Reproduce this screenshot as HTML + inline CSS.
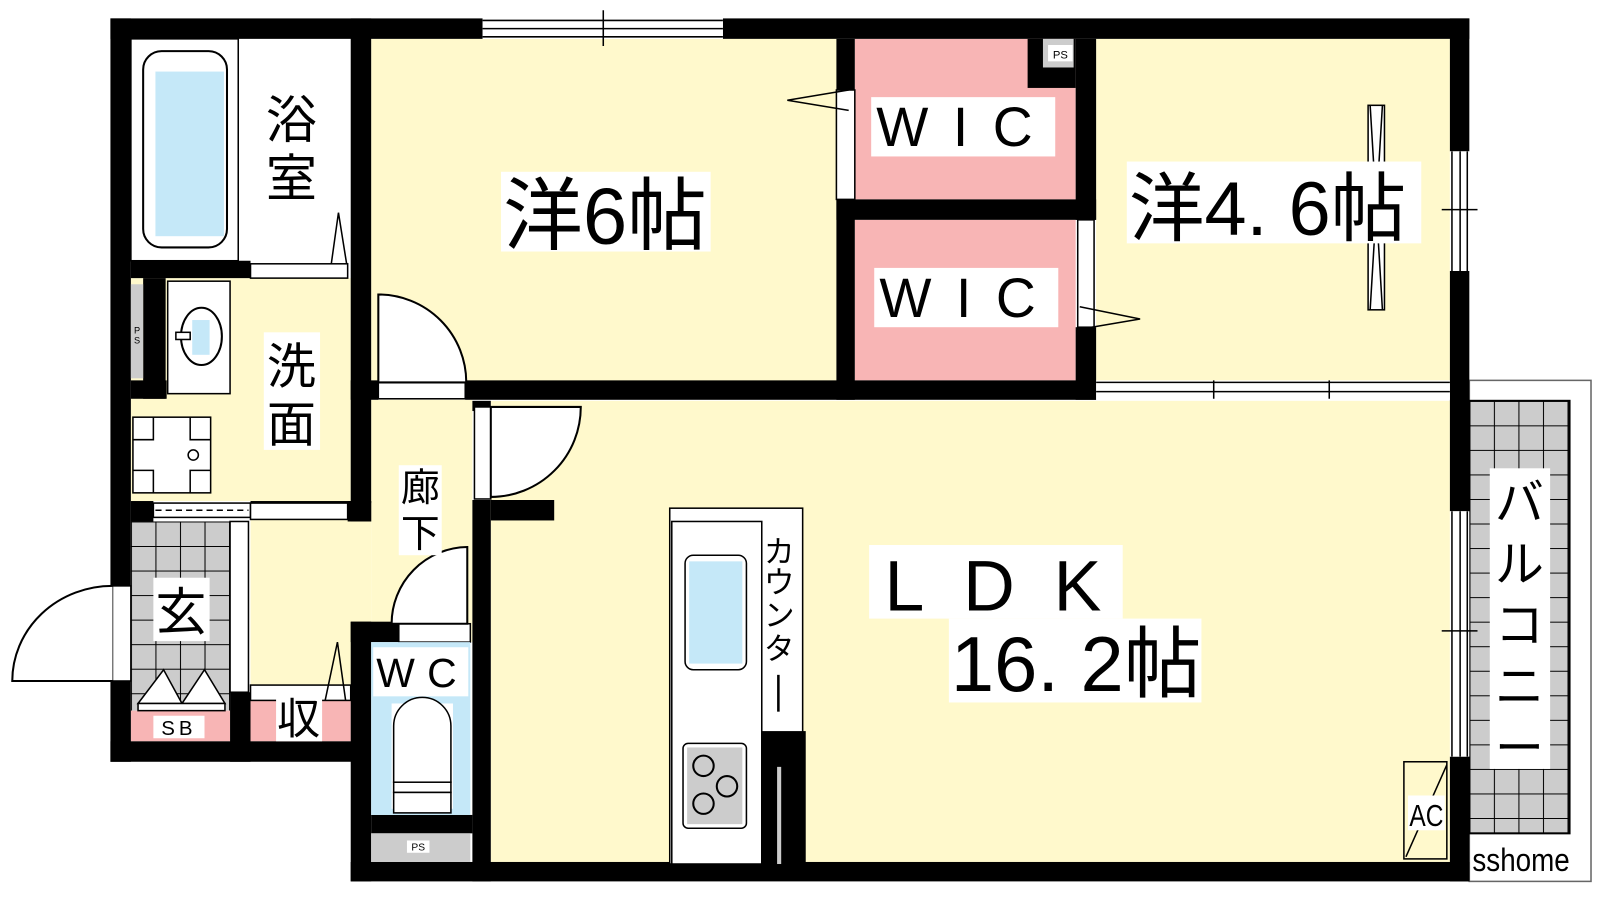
<!DOCTYPE html>
<html><head><meta charset="utf-8"><style>
html,body{margin:0;padding:0;background:#fff;width:1600px;height:900px;overflow:hidden}
svg{display:block}
text{font-family:"Liberation Sans","Noto Sans CJK JP",sans-serif;fill:#000}
</style></head><body>
<svg width="1600" height="900" viewBox="0 0 1600 900" xmlns="http://www.w3.org/2000/svg">
<defs>
<pattern id="tile" width="24" height="24" patternUnits="userSpaceOnUse" x="1437" y="392">
<rect width="24" height="24" fill="#cccccc"/><path d="M0 0H24M0 0V24" stroke="#000" stroke-width="2"/></pattern>
<pattern id="tile2" width="24" height="24" patternUnits="userSpaceOnUse" x="128" y="510">
<rect width="24" height="24" fill="#cccccc"/><path d="M0 0H24M0 0V24" stroke="#000" stroke-width="2"/></pattern>
</defs>
<g transform="scale(1.0225)">
<rect x="363" y="38" width="455" height="336" fill="#fff9cc"/>
<rect x="1072" y="38" width="346" height="336" fill="#fff9cc"/>
<rect x="836" y="38" width="216" height="157" fill="#f8b5b5"/>
<rect x="836" y="215" width="216" height="157" fill="#f8b5b5"/>
<rect x="480" y="392" width="938" height="453" fill="#fff9cc"/>
<rect x="363" y="391" width="99" height="237" fill="#fff9cc"/>
<rect x="245" y="508" width="118" height="162" fill="#fff9cc"/>
<rect x="128" y="272" width="215" height="218" fill="#fff9cc"/>
<rect x="128" y="38" width="215" height="217" fill="#fff"/>
<rect x="1437" y="372" width="119" height="490" fill="#fff" stroke="#666" stroke-width="1.5"/>
<rect x="1437" y="392" width="98" height="423" fill="url(#tile)" stroke="#000" stroke-width="2"/>
<rect x="1457" y="458" width="59" height="294" fill="#fff"/>
<text x="1486" y="508" font-size="48" text-anchor="middle">バ</text>
<text x="1486" y="568" font-size="48" text-anchor="middle">ル</text>
<text x="1486" y="628" font-size="48" text-anchor="middle">コ</text>
<text x="1486" y="688" font-size="48" text-anchor="middle">ニ</text>
<text x="1486" y="748" font-size="48" text-anchor="middle">ー</text>
<rect x="1440" y="818" width="110" height="40" fill="#fff"/>
<text x="1440" y="852" font-size="32" transform="translate(1440 0) scale(0.85 1) translate(-1440 0)">sshome</text>
<rect x="128" y="510" width="97" height="185" fill="url(#tile2)"/>
<rect x="128" y="695" width="97" height="30" fill="#f8b5b5"/>
<rect x="245" y="685" width="98" height="40" fill="#f8b5b5"/>
<rect x="245" y="670" width="98" height="15" fill="#fff" stroke="#000" stroke-width="1.5"/>
<rect x="225" y="510" width="18" height="167" fill="#fff" stroke="#000" stroke-width="1.5"/>
<path d="M135 688 L160 655 L178 688 L200 655 L220 688 Z" fill="#fff" stroke="#000" stroke-width="1.5"/>
<rect x="135" y="688" width="85" height="7" fill="#fff" stroke="#000" stroke-width="1.5"/>
<g fill="#000">
<rect x="108" y="18" width="364" height="20"/>
<rect x="707" y="18" width="730" height="20"/>
<rect x="108" y="18" width="20" height="727"/>
<rect x="108" y="725" width="237" height="20"/>
<rect x="343" y="18" width="20" height="492"/>
<rect x="128" y="255" width="117" height="17"/>
<rect x="140" y="272" width="22" height="118"/>
<rect x="128" y="372" width="35" height="18"/>
<rect x="128" y="490" width="22" height="20"/>
<rect x="245" y="490" width="118" height="2"/>
<rect x="340" y="490" width="23" height="20"/>
<rect x="225" y="677" width="20" height="68"/>
<rect x="343" y="608" width="47" height="20"/>
<rect x="343" y="608" width="20" height="254"/>
<rect x="462" y="392" width="18" height="10"/>
<rect x="462" y="489" width="18" height="373"/>
<rect x="480" y="489" width="62" height="20"/>
<rect x="455" y="372" width="617" height="19"/>
<rect x="343" y="372" width="27" height="19"/>
<rect x="818" y="38" width="18" height="50"/>
<rect x="818" y="195" width="18" height="196"/>
<rect x="818" y="195" width="254" height="20"/>
<rect x="1052" y="38" width="20" height="177"/>
<rect x="1052" y="320" width="20" height="71"/>
<rect x="1005" y="38" width="47" height="48"/>
<rect x="1418" y="18" width="19" height="130"/>
<rect x="1418" y="265" width="19" height="235"/>
<rect x="1418" y="740" width="19" height="122"/>
<rect x="343" y="843" width="1094" height="19"/>
<rect x="363" y="797" width="99" height="18"/>
</g>
<rect x="472" y="18" width="235" height="20" fill="#fff"/>
<path d="M472 20H707M472 28H707M472 36H707M590 10V45" stroke="#000" stroke-width="1.5"/>
<rect x="1072" y="372" width="346" height="19" fill="#fff"/>
<path d="M1072 374H1418M1072 383H1418M1187 372V390M1300 372V390" stroke="#000" stroke-width="1.5"/>
<rect x="1418" y="148" width="19" height="117" fill="#fff"/>
<path d="M1420 148V265M1428 148V265M1435 148V265M1410 205H1445" stroke="#000" stroke-width="1.5"/>
<rect x="1418" y="500" width="19" height="240" fill="#fff"/>
<path d="M1420 500V740M1428 500V740M1435 500V740M1410 617H1445" stroke="#000" stroke-width="1.5"/>
<rect x="128" y="38" width="105" height="217" fill="#fff" stroke="#000" stroke-width="1.5"/>
<rect x="140" y="50" width="82" height="192" rx="18" fill="#fff" stroke="#000" stroke-width="2"/>
<rect x="152" y="70" width="67" height="161" fill="#c5e8f8"/>
<rect x="245" y="258" width="95" height="14" fill="#fff" stroke="#000" stroke-width="1.5"/>
<path d="M324 258 L331 208 L339 258" fill="none" stroke="#000" stroke-width="1.5"/>
<text x="285" y="135" font-size="50" text-anchor="middle">浴</text>
<text x="285" y="192" font-size="50" text-anchor="middle">室</text>
<rect x="128" y="278" width="12" height="92" fill="#ccc"/>
<text x="134" y="326" font-size="9" text-anchor="middle">P</text>
<text x="134" y="336" font-size="9" text-anchor="middle">S</text>
<rect x="164" y="275" width="61" height="110" fill="#fff" stroke="#000" stroke-width="1.5"/>
<ellipse cx="197" cy="329" rx="20" ry="28" fill="#fff" stroke="#000" stroke-width="2"/>
<rect x="188" y="313" width="17" height="34" fill="#c5e8f8"/>
<rect x="172" y="325" width="14" height="7" fill="#fff" stroke="#000" stroke-width="1.5"/>
<rect x="130" y="408" width="76" height="74" fill="#fff" stroke="#000" stroke-width="1.5"/>
<path d="M150 408V430H130M186 408V430H206M150 482V460H130M186 482V460H206" fill="none" stroke="#000" stroke-width="1.5"/>
<circle cx="189" cy="445" r="5" fill="#fff" stroke="#000" stroke-width="1.5"/>
<rect x="258" y="325" width="55" height="115" fill="#fff"/>
<text x="285" y="375" font-size="48" text-anchor="middle">洗</text>
<text x="285" y="432" font-size="48" text-anchor="middle">面</text>
<rect x="150" y="492" width="95" height="14" fill="#fff" stroke="#000" stroke-width="1.5"/>
<path d="M152 499H243" stroke="#000" stroke-width="1.5" stroke-dasharray="6 4"/>
<rect x="245" y="492" width="95" height="16" fill="#fff" stroke="#000" stroke-width="1.5"/>
<rect x="370" y="374" width="85" height="16" fill="#fff" stroke="#000" stroke-width="1.5"/>
<path d="M370 374 V288 A86 86 0 0 1 456 374 Z" fill="#fff" stroke="#000" stroke-width="2"/>
<rect x="464" y="398" width="16" height="90" fill="#fff" stroke="#000" stroke-width="1.5"/>
<path d="M480 398 H568 A88 88 0 0 1 480 486 Z" fill="#fff" stroke="#000" stroke-width="2"/>
<rect x="390" y="610" width="70" height="18" fill="#fff" stroke="#000" stroke-width="1.5"/>
<path d="M383 610 A75 75 0 0 1 457 535 V610 Z" fill="#fff" stroke="#000" stroke-width="2"/>
<rect x="390" y="455" width="42" height="88" fill="#fff"/>
<text x="411" y="490" font-size="38" text-anchor="middle">廊</text>
<text x="411" y="535" font-size="38" text-anchor="middle">下</text>
<rect x="110" y="573" width="18" height="93" fill="#fff" stroke="#000" stroke-width="1.5"/>
<path d="M110 573 A98 93 0 0 0 12 666 H110" fill="#fff" stroke="#000" stroke-width="2"/>
<rect x="150" y="565" width="55" height="62" fill="#fff"/>
<text x="177" y="616" font-size="50" text-anchor="middle">玄</text>
<rect x="150" y="700" width="50" height="22" fill="#fff"/>
<text x="175" y="719" font-size="20" text-anchor="middle" letter-spacing="4">SB</text>
<rect x="270" y="678" width="45" height="47" fill="#fff"/>
<text x="292" y="718" font-size="42" text-anchor="middle">収</text>
<path d="M318 685 L330 628 L338 685" fill="none" stroke="#000" stroke-width="1.5"/>
<rect x="363" y="628" width="97" height="169" fill="#c5e8f8"/>
<rect x="365" y="633" width="93" height="48" fill="#fff"/>
<text x="368" y="672" font-size="40" letter-spacing="12">WC</text>
<rect x="383" y="688" width="60" height="103" fill="#fff"/>
<path d="M385 765 V710 A27 27 0 0 1 441 710 V765 Z" fill="#fff" stroke="#000" stroke-width="1.5"/>
<rect x="385" y="765" width="56" height="10" fill="#fff" stroke="#000" stroke-width="1.5"/>
<rect x="385" y="775" width="56" height="20" fill="#fff" stroke="#000" stroke-width="1.5"/>
<rect x="363" y="815" width="97" height="28" fill="#ccc"/>
<rect x="398" y="822" width="22" height="12" fill="#fff"/>
<text x="409" y="832" font-size="10" text-anchor="middle">PS</text>
<rect x="490" y="168" width="205" height="78" fill="#fff"/>
<text x="492" y="238" font-size="78">洋6帖</text>
<rect x="818" y="88" width="18" height="107" fill="#fff" stroke="#000" stroke-width="1.5"/>
<path d="M830 88 L770 98 L830 108" fill="none" stroke="#000" stroke-width="1.5"/>
<rect x="1054" y="215" width="16" height="105" fill="#fff" stroke="#000" stroke-width="1.5"/>
<path d="M1056 300 L1115 312 L1056 322" fill="none" stroke="#000" stroke-width="1.5"/>
<rect x="1020" y="38" width="30" height="28" fill="#ccc"/>
<rect x="1025" y="44" width="24" height="16" fill="#fff"/>
<text x="1037" y="57" font-size="11" text-anchor="middle">PS</text>
<rect x="852" y="95" width="180" height="58" fill="#fff"/>
<text x="857" y="143" font-size="54" letter-spacing="24">WIC</text>
<rect x="855" y="262" width="180" height="58" fill="#fff"/>
<text x="860" y="310" font-size="54" letter-spacing="24">WIC</text>
<rect x="1338" y="103" width="16" height="200" fill="#fff" stroke="#000" stroke-width="1.5"/>
<path d="M1340 103 L1346 203 L1352 103 M1340 303 L1346 203 L1352 303" fill="none" stroke="#000" stroke-width="1.5"/>
<rect x="1102" y="158" width="288" height="80" fill="#fff"/>
<text x="1104" y="230" font-size="74">洋4. 6帖</text>
<rect x="655" y="497" width="130" height="348" fill="#fff" stroke="#000" stroke-width="1.5"/>
<rect x="657" y="510" width="88" height="335" fill="#fff" stroke="#000" stroke-width="1.5"/>
<rect x="670" y="543" width="60" height="112" rx="8" fill="#fff" stroke="#000" stroke-width="1.5"/>
<rect x="674" y="549" width="52" height="100" fill="#c5e8f8"/>
<rect x="668" y="727" width="62" height="83" rx="5" fill="#fff" stroke="#000" stroke-width="1.5"/>
<rect x="672" y="731" width="54" height="75" fill="#ccc"/>
<g fill="none" stroke="#000" stroke-width="2"><circle cx="688" cy="749" r="10"/><circle cx="711" cy="769" r="10"/><circle cx="688" cy="786" r="10"/></g>
<rect x="745" y="715" width="43" height="130" fill="#000"/>
<rect x="760" y="750" width="4" height="95" fill="#ccc"/>
<g transform="translate(762 0)">
<text x="0" y="550" font-size="30" text-anchor="middle">カ</text>
<text x="0" y="580" font-size="30" text-anchor="middle">ウ</text>
<text x="0" y="612" font-size="30" text-anchor="middle">ン</text>
<text x="0" y="645" font-size="30" text-anchor="middle">タ</text>
</g>
<rect x="760" y="660" width="2.5" height="36" fill="#000"/>
<rect x="850" y="533" width="248" height="72" fill="#fff"/>
<text x="865" y="597" font-size="70" letter-spacing="38">LDK</text>
<rect x="928" y="605" width="247" height="82" fill="#fff"/>
<text x="930" y="676" font-size="76">16. 2帖</text>
<rect x="1373" y="745" width="42" height="95" fill="#fff9cc" stroke="#000" stroke-width="1.5"/>
<path d="M1375 838 L1415 748" stroke="#000" stroke-width="1.5"/>
<rect x="1377" y="778" width="36" height="34" fill="#fff"/>
<text x="1395" y="808" font-size="30" text-anchor="middle" transform="translate(1395 0) scale(0.8 1) translate(-1395 0)">AC</text>
</g>
</svg>
</body></html>
